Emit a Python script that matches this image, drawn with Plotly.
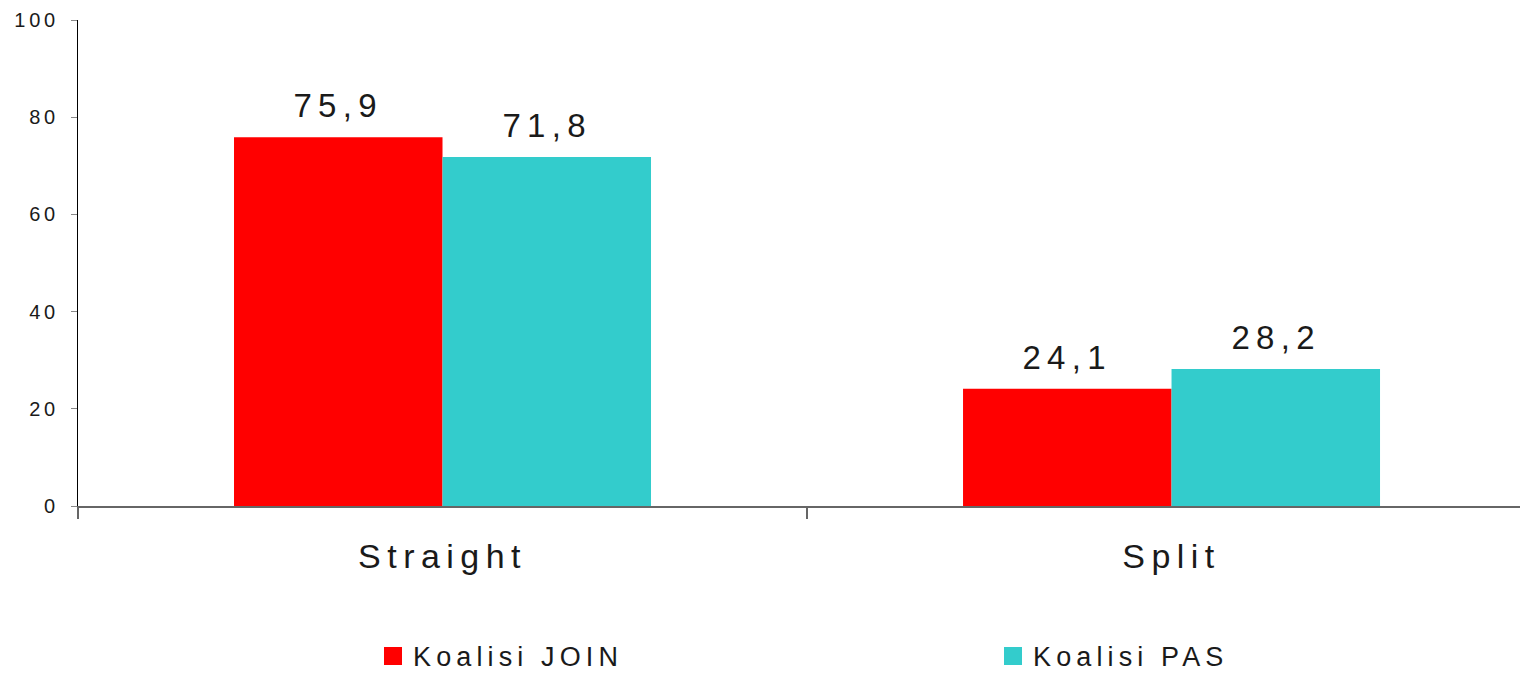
import plotly.graph_objects as go

categories = ["Straight", "Split"]
series_names = ["Koalisi JOIN", "Koalisi PAS"]
join_values = [75.9, 24.1]
pas_values = [71.8, 28.2]
y_ticks = [0, 20, 40, 60, 80, 100]

colors = ["#FF0000", "#33CCCC"]
FONT = "Liberation Sans, Arial, sans-serif"
TXT = "#1a1a1a"
BARGAP = 0.428

fig = go.Figure()
series = [join_values, pas_values]
legend_ids = ["legend", "legend2"]
for name, vals, col, lg in zip(series_names, series, colors, legend_ids):
    fig.add_trace(go.Bar(x=categories, y=vals, name=name, marker_color=col,
                         marker_line_width=0, showlegend=False))
    # legend proxy
    fig.add_trace(go.Scatter(x=[None], y=[None], mode="markers", name=name,
                             legend=lg,
                             marker=dict(symbol="square", size=16, color=col,
                                         line=dict(color=col, width=2))))

# value labels above the bars
bw = (1 - BARGAP) / len(series)
annos = []
for si, vals in enumerate(series):
    off = -((1 - BARGAP) / 2) + bw * (si + 0.5)
    for ci, v in enumerate(vals):
        annos.append(dict(x=ci + off, y=v, xref="x", yref="y",
                          text=f"{v:.1f}".replace(".", ","), showarrow=False,
                          yanchor="bottom", yshift=11,
                          font=dict(family=FONT, size=33, color=TXT)))

legend_style = dict(orientation="h", yanchor="top", y=-0.259,
                    entrywidthmode="pixels", entrywidth=300,
                    font=dict(family=FONT, size=27, color=TXT),
                    itemsizing="trace", bgcolor="rgba(0,0,0,0)")

fig.update_layout(
    width=1520, height=673,
    margin=dict(l=78, r=0, t=20, b=167, autoexpand=False),
    paper_bgcolor="white", plot_bgcolor="white",
    barmode="group", bargap=BARGAP, bargroupgap=0,
    annotations=annos,
    font=dict(family=FONT, color=TXT),
    legend=dict(x=(373 - 78) / 1442, xanchor="left", **legend_style),
    legend2=dict(x=(993 - 78) / 1442, xanchor="left", **legend_style),
    xaxis=dict(type="category", categoryorder="array", categoryarray=categories,
               range=[-0.5, 1.478], tickson="boundaries", ticks="outside",
               ticklen=11, tickwidth=2, tickcolor="#666666",
               showline=True, linecolor="#666666", linewidth=2,
               showgrid=False, zeroline=False, ticklabelstandoff=19,
               tickfont=dict(family=FONT, size=34, color=TXT)),
    yaxis=dict(range=[0, 100], tickmode="array", tickvals=y_ticks,
               ticks="outside", ticklen=6, tickcolor="#888888", tickwidth=1,
               showline=True, linecolor="#000000", linewidth=1,
               showgrid=False, zeroline=False, ticklabelstandoff=8,
               tickfont=dict(family=FONT, size=20, color=TXT)),
)

post = """
var gd = document.getElementById('{plot_id}');
function lsp(){ gd.querySelectorAll('text').forEach(function(t){ t.style.letterSpacing='0.19em'; }); }
lsp();
gd.on('plotly_afterplot', lsp);
"""
fig.write_html("out.html", post_script=post)
